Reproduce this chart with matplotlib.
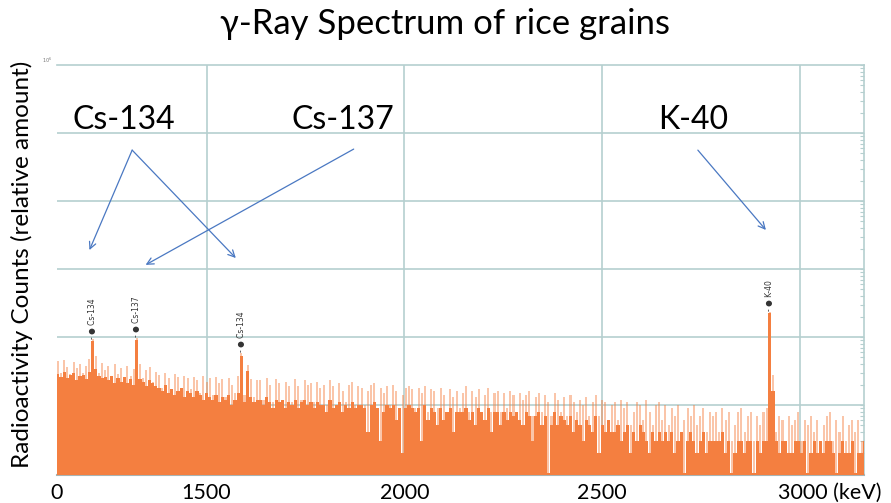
import numpy as np
import matplotlib
matplotlib.use('Agg')
import matplotlib.pyplot as plt
from matplotlib.ticker import LogLocator, NullFormatter, FixedLocator, FixedFormatter
import matplotlib.transforms as mtransforms

# ---------------- data ----------------
bin_start = 560      # keV
bin_width = 4        # keV
# upper (max) counts per bin - drawn as light spikes
hi_counts = [
    44, 30, 46, 36, 29, 43, 35, 40, 30, 38, 48, 92, 52, 30, 42, 33,
    38, 26, 40, 29, 35, 24, 37, 27, 34, 96, 40, 25, 33, 36, 22, 31,
    28, 18, 30, 25, 16, 29, 26, 18, 27, 25, 17, 26, 23, 15, 27, 22,
    25, 14, 26, 21, 24, 13, 25, 20, 15, 27, 58, 14, 39, 24, 13, 23,
    23, 12, 25, 20, 11, 24, 21, 12, 22, 19, 11, 24, 19, 12, 23, 20,
    21, 11, 22, 18, 20, 10, 23, 19, 10, 21, 16, 11, 20, 22, 10, 19,
    18, 10, 16, 20, 21, 9, 18, 15, 19, 10, 20, 16, 9, 14, 18, 19,
    17, 9, 18, 15, 19, 8, 17, 16, 9, 18, 14, 8, 17, 13, 16, 9,
    15, 19, 8, 16, 13, 17, 8, 14, 18, 8, 15, 16, 8, 15, 9, 16,
    14, 8, 15, 12, 14, 16, 7, 13, 15, 8, 14, 11, 7, 15, 12, 8,
    13, 7, 14, 11, 8, 12, 10, 13, 7, 11, 14, 7, 12, 11, 6, 10,
    11, 6, 12, 9, 11, 5, 8, 11, 10, 6, 12, 8, 5, 10, 11, 6,
    10, 5, 9, 7, 10, 4, 6, 9, 7, 10, 5, 7, 9, 4, 8, 7,
    8, 4, 9, 6, 8, 3, 5, 8, 9, 4, 7, 8, 3, 7, 5, 8,
    9, 235, 28, 4, 7, 6, 3, 7, 5, 6, 8, 3, 6, 5, 7, 4,
    6, 3, 5, 7, 8, 3, 6, 4, 7, 3, 5, 6, 4, 6, 3, 6,
]
# typical counts per bin - drawn solid
lo_counts = [
    29, 26, 31, 25, 28, 30, 23, 27, 28, 24, 31, 86, 34, 27, 25, 26,
    23, 27, 21, 25, 22, 26, 21, 24, 20, 90, 24, 22, 19, 23, 21, 19,
    18, 16, 20, 15, 17, 14, 16, 18, 13, 16, 15, 13, 16, 14, 12, 15,
    13, 12, 14, 11, 13, 12, 14, 10, 12, 15, 52, 11, 32, 13, 11, 12,
    12, 10, 13, 11, 9, 12, 11, 12, 9, 11, 10, 12, 9, 11, 12, 10,
    11, 9, 11, 10, 10, 8, 12, 9, 10, 11, 8, 10, 9, 11, 9, 10,
    10, 9, 4, 10, 11, 9, 3, 8, 10, 9, 10, 6, 9, 2, 9, 10,
    9, 8, 9, 3, 10, 6, 9, 8, 5, 9, 6, 8, 9, 4, 8, 8,
    8, 9, 6, 8, 5, 9, 8, 6, 9, 4, 8, 8, 5, 8, 6, 8,
    7, 8, 6, 5, 8, 7, 3, 7, 8, 5, 7, 1, 5, 8, 5, 7,
    6, 5, 7, 4, 6, 5, 3, 6, 5, 4, 7, 2, 5, 4, 6, 4,
    4, 5, 3, 4, 5, 2, 4, 3, 5, 4, 3, 2, 4, 3, 4, 3,
    4, 3, 4, 2, 3, 4, 1, 3, 4, 3, 2, 3, 4, 2, 3, 3,
    3, 3, 4, 2, 3, 1, 2, 3, 3, 2, 3, 3, 1, 3, 2, 3,
    3, 228, 16, 3, 2, 3, 3, 2, 2, 3, 3, 2, 3, 1, 2, 3,
    2, 3, 2, 3, 3, 2, 1, 2, 3, 2, 2, 3, 1, 2, 2, 3,
]
peak_names = ['Cs-134', 'Cs-137', 'Cs-134', 'K-40']
peak_energy = [605, 662, 794, 1461]
tick_pos = [561, 750, 1000, 1250, 1500]
tick_labels = ['0', '1500', '2000', '2500', '3000 (keV)']

# ---------------- style ----------------
ORANGE = '#F47F40'
GRID = '#B5CFCF'
ARROW = '#4A78C2'
FONT = ['Lato', 'DejaVu Sans']
plt.rcParams['font.family'] = FONT

fig = plt.figure(figsize=(8.91, 5.03), dpi=100)
W, H = 891, 503
ax = fig.add_axes([57 / W, 1 - 475 / H, (864 - 57) / W, (475 - 65) / H])

ymin, ymax = 10 ** (-2 / 68), 1e6
ax.set_yscale('log')
ax.set_xlim(561, 1581)
ax.set_ylim(ymin, ymax)

edges = bin_start + bin_width * np.arange(len(hi_counts) + 1)
centers = edges[:-1] + bin_width / 2
hi = np.array(hi_counts, dtype=float)
ax.bar(centers, hi - ymin, width=2.6, bottom=ymin, color=ORANGE, alpha=0.45,
       linewidth=0, zorder=2)
ax.stairs(lo_counts, edges, fill=True, baseline=ymin, color=ORANGE,
          linewidth=0, zorder=3)

# grid
ax.xaxis.set_major_locator(FixedLocator(tick_pos))
ax.xaxis.set_major_formatter(FixedFormatter(tick_labels))
for xv in tick_pos[1:]:
    ax.axvline(xv, color=GRID, lw=1.2, zorder=1)
for yv in [1e1, 1e2, 1e3, 1e4, 1e5]:
    ax.axhline(yv, color=GRID, lw=1.2, zorder=1)

ax.tick_params(axis='x', length=0, labelsize=15.5, pad=6, colors='black')
xt = ax.get_xticklabels()
off = mtransforms.ScaledTranslation(-22 / 100, 0, fig.dpi_scale_trans)
xt[-1].set_horizontalalignment('left')
xt[-1].set_transform(xt[-1].get_transform() + off)

ax.yaxis.tick_right()
ax.yaxis.set_major_locator(LogLocator(base=10, numticks=10))
ax.yaxis.set_minor_locator(LogLocator(base=10, subs=np.arange(2, 10), numticks=10))
ax.yaxis.set_major_formatter(NullFormatter())
ax.yaxis.set_minor_formatter(NullFormatter())
ax.tick_params(axis='y', which='both', direction='in', colors=GRID, length=3, width=0.8)

ax.spines['left'].set_visible(False)
ax.spines['top'].set_color(GRID)
ax.spines['right'].set_color(GRID)
ax.spines['top'].set_linewidth(1.2)
ax.spines['right'].set_linewidth(1.2)
ax.spines['bottom'].set_color('#A8B4B4')
ax.spines['bottom'].set_linewidth(1.5)

ax.text(-0.006, 1.0, r'$10^6$', transform=ax.transAxes, fontsize=3.5, color='#777777',
        ha='right', va='bottom')

# peak markers
for name, e in zip(peak_names, peak_energy):
    i = int((e - bin_start) // bin_width)
    ax.text(centers[i], hi_counts[i] * 1.03, '- \u25cf ' + name,
            rotation=90, fontsize=5.5, ha='center', va='bottom', color='#333333',
            family=['DejaVu Sans'], zorder=5)

# annotations
big = 23
ax.text(645, 1.55e5, 'Cs-134', fontsize=big, ha='center', va='center', zorder=6)
ax.text(922, 1.55e5, 'Cs-137', fontsize=big, ha='center', va='center', zorder=6)
ax.text(1365, 1.55e5, 'K-40', fontsize=big, ha='center', va='center', zorder=6)
aprops = dict(arrowstyle='->', color=ARROW, lw=0.9, shrinkA=0, shrinkB=0,
              mutation_scale=12)
ax.annotate('', xy=(602, 1900), xytext=(656, 5.6e4), arrowprops=aprops, zorder=6)
ax.annotate('', xy=(787, 1450), xytext=(656, 5.6e4), arrowprops=aprops, zorder=6)
ax.annotate('', xy=(673, 1150), xytext=(936, 5.8e4), arrowprops=aprops, zorder=6)
ax.annotate('', xy=(1457, 3750), xytext=(1371, 5.6e4), arrowprops=aprops, zorder=6)

fig.text(445 / W, 1 - 24 / H, '\u03b3-Ray Spectrum of rice grains', fontsize=25,
         ha='center', va='center')
fig.text(22 / W, 1 - 264 / H, 'Radioactivity Counts (relative amount)', fontsize=17.5,
         rotation=90, ha='center', va='center')

fig.savefig('out.png', dpi=100)
